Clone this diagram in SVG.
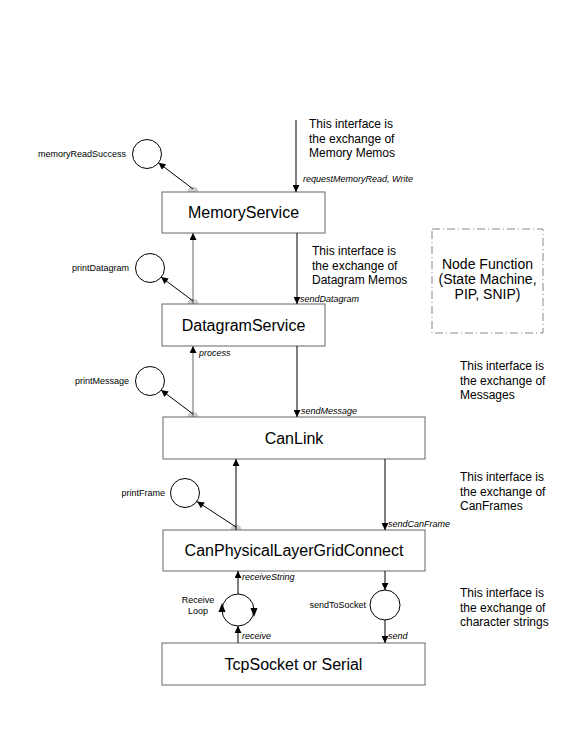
<svg xmlns="http://www.w3.org/2000/svg" width="576" height="734" viewBox="0 0 576 734">
  <style>
    .box { fill: #fff; stroke: #666; stroke-width: 1; }
    .title { font-family: "Liberation Sans", Arial, sans-serif; font-size: 16px; fill: #000; text-anchor: middle; }
    .note { font-family: "Liberation Sans", Arial, sans-serif; font-size: 12px; fill: #000; }
    .small { font-family: "Liberation Sans", Arial, sans-serif; font-size: 9px; fill: #000; }
    .call { font-family: "Liberation Sans", Arial, sans-serif; font-size: 9px; font-style: italic; fill: #000; }
    .circ { fill: #fff; stroke: #000; stroke-width: 1; }
    .dot { fill: #ccc; }
    .link { stroke: #000; stroke-width: 1; fill: none; marker-end: url(#arrow); }
    .grey { stroke: #666; }
    .frame { fill: none; stroke: #888; stroke-width: 1; stroke-dasharray: 8 3 1 3; }
  </style>
  <defs>
    <marker id="arrow" viewBox="0 0 10 10" refX="10" refY="5" markerWidth="8" markerHeight="7" markerUnits="userSpaceOnUse" orient="auto">
      <path d="M0,0 L10,5 L0,10 Z" fill="#000"/>
    </marker>
  </defs>

  <rect width="576" height="734" fill="#fff"/>

  <!-- attachment dots on the layer boxes (drawn under the boxes) -->
  <g id="dots">
    <circle class="dot" cx="193" cy="192" r="5.5"/>
    <circle class="dot" cx="193" cy="304" r="5.5"/>
    <circle class="dot" cx="193" cy="417" r="5.5"/>
    <circle class="dot" cx="236" cy="530" r="5.5"/>
  </g>

  <g id="memoryService">
    <rect class="box" x="162" y="192" width="163" height="41"/>
    <text class="title" x="243.5" y="218">MemoryService</text>
  </g>
  <g id="datagramService">
    <rect class="box" x="162" y="304" width="163" height="42"/>
    <text class="title" x="243.5" y="331">DatagramService</text>
  </g>
  <g id="canLink">
    <rect class="box" x="163" y="417" width="262" height="42"/>
    <text class="title" x="294" y="444">CanLink</text>
  </g>
  <g id="canPhysicalLayerGridConnect">
    <rect class="box" x="163" y="530" width="262" height="41"/>
    <text class="title" x="294" y="556">CanPhysicalLayerGridConnect</text>
  </g>
  <g id="tcpSocket">
    <rect class="box" x="162" y="643" width="263" height="42"/>
    <text class="title" x="293.5" y="670">TcpSocket or Serial</text>
  </g>

  <g id="nodeFunction">
    <rect class="frame" x="432" y="229" width="111" height="104"/>
    <text class="note" style="font-size:14px" text-anchor="middle" x="487.5" y="269">Node Function</text>
    <text class="note" style="font-size:14px" text-anchor="middle" x="487.5" y="284">(State Machine,</text>
    <text class="note" style="font-size:14px" text-anchor="middle" x="487.5" y="299">PIP, SNIP)</text>
  </g>

  <g id="memoryReadSuccess">
    <circle class="circ" cx="147" cy="154" r="14.5"/>
    <text class="small" text-anchor="end" x="126" y="157">memoryReadSuccess</text>
  </g>
  <g id="printDatagram">
    <circle class="circ" cx="150" cy="268" r="14.5"/>
    <text class="small" text-anchor="end" x="129" y="271">printDatagram</text>
  </g>
  <g id="printMessage">
    <circle class="circ" cx="150" cy="381" r="14.5"/>
    <text class="small" text-anchor="end" x="129" y="384">printMessage</text>
  </g>
  <g id="printFrame">
    <circle class="circ" cx="185" cy="493" r="14.5"/>
    <text class="small" text-anchor="end" x="165" y="496">printFrame</text>
  </g>
  <g id="receiveLoop">
    <circle class="circ" cx="238" cy="610" r="16"/>
    <!-- rotation arrows on the loop: up on the left side, down on the right side -->
    <path d="M222,603 L225.5,612 L218.5,612 Z" fill="#000"/>
    <path d="M254,617 L250.5,608 L257.5,608 Z" fill="#000"/>
    <text class="small" text-anchor="middle" x="198" y="603">Receive</text>
    <text class="small" text-anchor="middle" x="198" y="614">Loop</text>
  </g>
  <g id="sendToSocket">
    <circle class="circ" cx="385" cy="605" r="15"/>
    <text class="small" text-anchor="end" x="366" y="608">sendToSocket</text>
  </g>

  <g id="interfaceNotes">
    <text class="note" x="309" y="128">This interface is</text>
    <text class="note" x="309" y="143">the exchange of</text>
    <text class="note" x="309" y="157">Memory Memos</text>
    <text class="note" x="312" y="255">This interface is</text>
    <text class="note" x="312" y="270">the exchange of</text>
    <text class="note" x="312" y="284">Datagram Memos</text>
    <text class="note" x="460" y="370">This interface is</text>
    <text class="note" x="460" y="385">the exchange of</text>
    <text class="note" x="460" y="399">Messages</text>
    <text class="note" x="460" y="481">This interface is</text>
    <text class="note" x="460" y="496">the exchange of</text>
    <text class="note" x="460" y="510">CanFrames</text>
    <text class="note" x="460" y="597">This interface is</text>
    <text class="note" x="460" y="612">the exchange of</text>
    <text class="note" x="460" y="626">character strings</text>
  </g>

  <g id="connectors">
    <line class="link" x1="296" y1="120" x2="296" y2="192"/>
    <line class="link" x1="193" y1="189" x2="158.5" y2="162.8"/>
    <line class="link grey" x1="193" y1="304" x2="193" y2="233"/>
    <line class="link" x1="297" y1="233" x2="297" y2="304"/>
    <line class="link" x1="193" y1="301" x2="161" y2="277"/>
    <line class="link grey" x1="193" y1="417" x2="193" y2="346"/>
    <line class="link" x1="297" y1="346" x2="297" y2="417"/>
    <line class="link" x1="193" y1="414" x2="161" y2="390"/>
    <line class="link" x1="236" y1="530" x2="236" y2="459"/>
    <line class="link" x1="385" y1="459" x2="385" y2="530"/>
    <line class="link" x1="236" y1="527" x2="197" y2="501.5"/>
    <line class="link" x1="238" y1="594" x2="238" y2="571"/>
    <line class="link" x1="238" y1="643" x2="238" y2="626"/>
    <line class="link" x1="385" y1="571" x2="385" y2="590"/>
    <line class="link" x1="385" y1="620" x2="385" y2="643"/>
  </g>

  <g id="callLabels">
    <text class="call" x="303" y="182">requestMemoryRead, Write</text>
    <text class="call" x="300" y="302">sendDatagram</text>
    <text class="call" x="199" y="356">process</text>
    <text class="call" x="301" y="414">sendMessage</text>
    <text class="call" x="388" y="527">sendCanFrame</text>
    <text class="call" x="242" y="580">receiveString</text>
    <text class="call" x="242" y="639">receive</text>
    <text class="call" x="388" y="639">send</text>
  </g>
</svg>
